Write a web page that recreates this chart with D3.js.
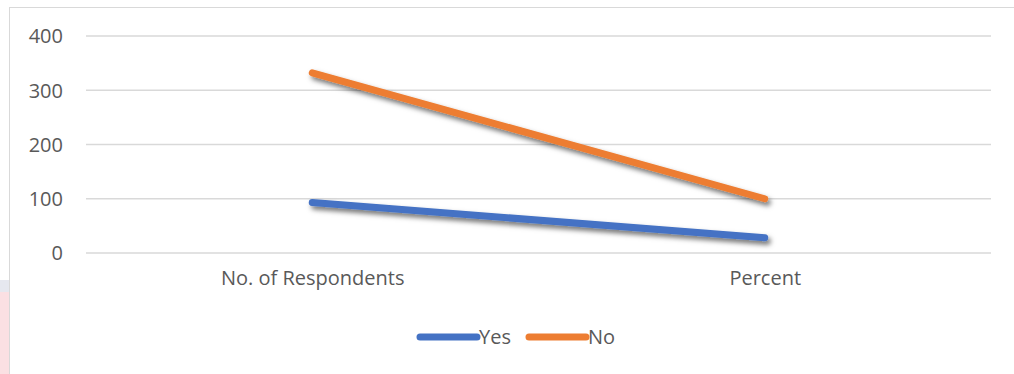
<!DOCTYPE html>
<html>
<head>
<meta charset="utf-8">
<script src="https://cdn.jsdelivr.net/npm/d3@7"></script>
<style>
  html, body { margin: 0; padding: 0; background: #fff; }
  svg { display: block; }
  text { font-family: "Open Sans", "Noto Sans", sans-serif; fill: #595959; }
</style>
</head>
<body>
<svg id="chart" width="1014" height="374"></svg>
<script>
// Categories along the x axis
const categories = ["No. of Respondents", "Percent"];
// Series values
const yesValues = [93, 28];
const noValues = [332, 100];
// Y axis ticks
const yTicks = [0, 100, 200, 300, 400];

const series = [
  { name: "Yes", values: yesValues, color: "#4472C4" },
  { name: "No", values: noValues, color: "#ED7D31" }
];

const svg = d3.select("#chart");
const W = 1014, H = 374;
const plot = { left: 86, right: 991, top: 36, bottom: 253 };
const FS = 20;

// faint page tint at the left edge, outside the chart frame
svg.append("rect").attr("x", 0).attr("y", 292).attr("width", 9).attr("height", H - 292)
  .attr("fill", "#fbe0e3");
svg.append("rect").attr("x", 0).attr("y", 280).attr("width", 9).attr("height", 12)
  .attr("fill", "#e6e8ef");

// chart frame
svg.append("rect")
  .attr("x", 9.5).attr("y", 7.5)
  .attr("width", W + 10).attr("height", H + 10)
  .attr("fill", "#fff").attr("stroke", "#d9d9d9").attr("stroke-width", 1);

const defs = svg.append("defs");
const f = defs.append("filter").attr("id", "shadow")
  .attr("x", "-10%").attr("y", "-50%").attr("width", "120%").attr("height", "200%");
f.append("feDropShadow")
  .attr("dx", 2.5).attr("dy", 3.5).attr("stdDeviation", 2.4)
  .attr("flood-color", "#000").attr("flood-opacity", 0.55);

const x = d3.scalePoint().domain(categories).range([plot.left, plot.right]).padding(0.5);
const y = d3.scaleLinear().domain([0, 400]).range([plot.bottom, plot.top]);

// gridlines
svg.append("g").selectAll("line").data(yTicks).join("line")
  .attr("x1", plot.left).attr("x2", plot.right)
  .attr("y1", d => y(d)).attr("y2", d => y(d))
  .attr("stroke", "#d9d9d9").attr("stroke-width", 1.5);

// y axis labels
const yAxis = d3.axisLeft(y).tickValues(yTicks).tickSize(0).tickPadding(0);
const gy = svg.append("g").attr("transform", "translate(63,0)").call(yAxis);
gy.select(".domain").remove();
gy.selectAll("text").attr("font-size", FS).style("fill", "#595959")
  .attr("font-family", "'Open Sans', sans-serif").attr("dy", "0.34em");

// x axis labels
const xAxis = d3.axisBottom(x).tickSize(0).tickPadding(0);
const gx = svg.append("g").attr("transform", "translate(0,271)").call(xAxis);
gx.select(".domain").remove();
gx.selectAll("text").attr("font-size", FS).style("fill", "#595959")
  .attr("font-family", "'Open Sans', sans-serif").attr("dy", "0.71em");

// series lines
const line = d3.line().x((d, i) => x(categories[i])).y(d => y(d));
svg.append("g").selectAll("path").data(series).join("path")
  .attr("d", d => line(d.values))
  .attr("fill", "none")
  .attr("stroke", d => d.color)
  .attr("stroke-width", 7)
  .attr("stroke-linecap", "round")
  .attr("stroke-linejoin", "round")
  .attr("filter", "url(#shadow)");

// legend
const legendItems = [
  { x1: 420, x2: 477, tx: 479 },
  { x1: 529, x2: 586, tx: 588 }
];
const lg = svg.append("g");
series.forEach((s, i) => {
  const p = legendItems[i];
  lg.append("line").attr("x1", p.x1).attr("x2", p.x2).attr("y1", 337).attr("y2", 337)
    .attr("stroke", s.color).attr("stroke-width", 7).attr("stroke-linecap", "round");
  lg.append("text").attr("x", p.tx).attr("y", 337).attr("dy", "0.35em")
    .attr("font-size", FS).text(s.name);
});
</script>
</body>
</html>
